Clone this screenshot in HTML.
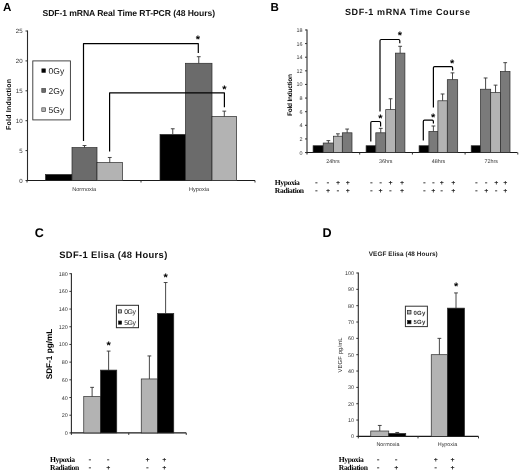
<!DOCTYPE html>
<html lang="en">
<head>
<meta charset="utf-8">
<title>SDF-1 and VEGF induction figure</title>
<style>
html,body{margin:0;padding:0;background:#fff;}
body{width:520px;height:475px;overflow:hidden;}
svg{display:block;}
</style>
</head>
<body>
<svg width="520" height="475" viewBox="0 0 520 475" text-rendering="geometricPrecision">
<rect x="0" y="0" width="520" height="475" fill="#fff"/>
<g>
<text x="7.20" y="11.10" font-family='"Liberation Sans", Arial, sans-serif' font-size="11.6" font-weight="bold" text-anchor="middle" fill="#000" >A</text>
<text x="42.50" y="15.60" font-family='"Liberation Sans", Arial, sans-serif' font-size="8.6" font-weight="bold" textLength="172.50" lengthAdjust="spacing" fill="#111" >SDF-1 mRNA Real Time RT-PCR (48 Hours)</text>
<line x1="27.50" y1="30.50" x2="27.50" y2="181.10" stroke="#2a2a2a" stroke-width="1.1" />
<line x1="26.90" y1="180.50" x2="255.00" y2="180.50" stroke="#1a1a1a" stroke-width="1.1" />
<line x1="25.50" y1="180.50" x2="27.50" y2="180.50" stroke="#333" stroke-width="1" />
<line x1="25.50" y1="150.60" x2="27.50" y2="150.60" stroke="#333" stroke-width="1" />
<line x1="25.50" y1="120.70" x2="27.50" y2="120.70" stroke="#333" stroke-width="1" />
<line x1="25.50" y1="90.80" x2="27.50" y2="90.80" stroke="#333" stroke-width="1" />
<line x1="25.50" y1="60.90" x2="27.50" y2="60.90" stroke="#333" stroke-width="1" />
<line x1="25.50" y1="31.00" x2="27.50" y2="31.00" stroke="#333" stroke-width="1" />
<line x1="27.00" y1="180.50" x2="27.00" y2="182.50" stroke="#333" stroke-width="1" />
<line x1="141.00" y1="180.50" x2="141.00" y2="182.50" stroke="#333" stroke-width="1" />
<line x1="255.00" y1="180.50" x2="255.00" y2="182.50" stroke="#333" stroke-width="1" />
<text x="22.60" y="182.60" font-family='"Liberation Sans", Arial, sans-serif' font-size="6.1" text-anchor="end" fill="#333" >0</text>
<text x="22.60" y="152.70" font-family='"Liberation Sans", Arial, sans-serif' font-size="6.1" text-anchor="end" fill="#333" >5</text>
<text x="22.60" y="122.80" font-family='"Liberation Sans", Arial, sans-serif' font-size="6.1" text-anchor="end" fill="#333" >10</text>
<text x="22.60" y="92.90" font-family='"Liberation Sans", Arial, sans-serif' font-size="6.1" text-anchor="end" fill="#333" >15</text>
<text x="22.60" y="63.00" font-family='"Liberation Sans", Arial, sans-serif' font-size="6.1" text-anchor="end" fill="#333" >20</text>
<text x="22.60" y="33.10" font-family='"Liberation Sans", Arial, sans-serif' font-size="6.1" text-anchor="end" fill="#333" >25</text>
<text x="10.90" y="104.50" font-family='"Liberation Sans", Arial, sans-serif' font-size="7.0" font-weight="bold" text-anchor="middle" textLength="51.00" lengthAdjust="spacing" transform="rotate(-90 10.90 104.50)" fill="#000" >Fold Induction</text>
<rect x="45.50" y="174.52" width="26.50" height="5.98" fill="#000" stroke="#2a2a2a" stroke-width="0.7"/>
<rect x="72.00" y="147.61" width="25.00" height="32.89" fill="#6b6b6b" stroke="#2a2a2a" stroke-width="0.7"/>
<line x1="84.50" y1="147.61" x2="84.50" y2="145.52" stroke="#333" stroke-width="0.9" />
<line x1="82.60" y1="145.52" x2="86.40" y2="145.52" stroke="#333" stroke-width="0.9" />
<rect x="97.00" y="162.56" width="25.50" height="17.94" fill="#b3b3b3" stroke="#2a2a2a" stroke-width="0.7"/>
<line x1="109.75" y1="162.56" x2="109.75" y2="157.48" stroke="#333" stroke-width="0.9" />
<line x1="107.85" y1="157.48" x2="111.65" y2="157.48" stroke="#333" stroke-width="0.9" />
<rect x="160.00" y="134.45" width="25.50" height="46.05" fill="#000" stroke="#2a2a2a" stroke-width="0.7"/>
<line x1="172.75" y1="134.45" x2="172.75" y2="128.77" stroke="#333" stroke-width="0.9" />
<line x1="170.85" y1="128.77" x2="174.65" y2="128.77" stroke="#333" stroke-width="0.9" />
<rect x="185.50" y="63.29" width="26.50" height="117.21" fill="#6b6b6b" stroke="#2a2a2a" stroke-width="0.7"/>
<line x1="198.75" y1="63.29" x2="198.75" y2="56.71" stroke="#333" stroke-width="0.9" />
<line x1="196.85" y1="56.71" x2="200.65" y2="56.71" stroke="#333" stroke-width="0.9" />
<rect x="212.00" y="116.51" width="24.60" height="63.99" fill="#b3b3b3" stroke="#2a2a2a" stroke-width="0.7"/>
<line x1="224.30" y1="116.51" x2="224.30" y2="111.13" stroke="#333" stroke-width="0.9" />
<line x1="222.40" y1="111.13" x2="226.20" y2="111.13" stroke="#333" stroke-width="0.9" />
<text x="84.20" y="191.30" font-family='"Liberation Sans", Arial, sans-serif' font-size="5.6" text-anchor="middle" fill="#333" >Normoxia</text>
<text x="199.00" y="191.30" font-family='"Liberation Sans", Arial, sans-serif' font-size="5.6" text-anchor="middle" fill="#333" >Hypoxia</text>
<rect x="32.80" y="60.90" width="37.60" height="59.00" fill="#fff" stroke="#333" stroke-width="0.9"/>
<rect x="41.80" y="68.80" width="3.80" height="3.80" fill="#000" stroke="#333" stroke-width="0.6"/>
<text x="48.60" y="73.80" font-family='"Liberation Sans", Arial, sans-serif' font-size="8.5" fill="#222" >0Gy</text>
<rect x="41.80" y="88.50" width="3.80" height="3.80" fill="#6b6b6b" stroke="#333" stroke-width="0.6"/>
<text x="48.60" y="93.50" font-family='"Liberation Sans", Arial, sans-serif' font-size="8.5" fill="#222" >2Gy</text>
<rect x="41.80" y="107.80" width="3.80" height="3.80" fill="#b3b3b3" stroke="#333" stroke-width="0.6"/>
<text x="48.60" y="112.80" font-family='"Liberation Sans", Arial, sans-serif' font-size="8.5" fill="#222" >5Gy</text>
<path d="M83.50,141.00 V43.60 H198.30 V53.00" fill="none" stroke="#000" stroke-width="1.2" stroke-linejoin="round"/>
<text x="198.00" y="43.21" font-family='"Liberation Sans", Arial, sans-serif' font-size="11" font-weight="bold" text-anchor="middle" fill="#000" >*</text>
<path d="M109.60,151.50 V92.90 H224.40 V107.20" fill="none" stroke="#000" stroke-width="1.2" stroke-linejoin="round"/>
<text x="224.40" y="93.01" font-family='"Liberation Sans", Arial, sans-serif' font-size="11" font-weight="bold" text-anchor="middle" fill="#000" >*</text>
<text x="274.60" y="11.10" font-family='"Liberation Sans", Arial, sans-serif' font-size="11.6" font-weight="bold" text-anchor="middle" fill="#000" >B</text>
<text x="345.00" y="15.00" font-family='"Liberation Sans", Arial, sans-serif' font-size="9" font-weight="bold" textLength="125.00" lengthAdjust="spacing" fill="#111" >SDF-1 mRNA Time Course</text>
<line x1="307.00" y1="29.47" x2="307.00" y2="153.15" stroke="#2a2a2a" stroke-width="1.1" />
<line x1="306.40" y1="152.55" x2="517.50" y2="152.55" stroke="#1a1a1a" stroke-width="1.1" />
<line x1="305.00" y1="152.55" x2="307.00" y2="152.55" stroke="#333" stroke-width="1" />
<line x1="305.00" y1="138.93" x2="307.00" y2="138.93" stroke="#333" stroke-width="1" />
<line x1="305.00" y1="125.31" x2="307.00" y2="125.31" stroke="#333" stroke-width="1" />
<line x1="305.00" y1="111.69" x2="307.00" y2="111.69" stroke="#333" stroke-width="1" />
<line x1="305.00" y1="98.07" x2="307.00" y2="98.07" stroke="#333" stroke-width="1" />
<line x1="305.00" y1="84.45" x2="307.00" y2="84.45" stroke="#333" stroke-width="1" />
<line x1="305.00" y1="70.83" x2="307.00" y2="70.83" stroke="#333" stroke-width="1" />
<line x1="305.00" y1="57.21" x2="307.00" y2="57.21" stroke="#333" stroke-width="1" />
<line x1="305.00" y1="43.59" x2="307.00" y2="43.59" stroke="#333" stroke-width="1" />
<line x1="305.00" y1="29.97" x2="307.00" y2="29.97" stroke="#333" stroke-width="1" />
<line x1="307.00" y1="152.55" x2="307.00" y2="154.55" stroke="#333" stroke-width="1" />
<line x1="359.70" y1="152.55" x2="359.70" y2="154.55" stroke="#333" stroke-width="1" />
<line x1="412.40" y1="152.55" x2="412.40" y2="154.55" stroke="#333" stroke-width="1" />
<line x1="465.10" y1="152.55" x2="465.10" y2="154.55" stroke="#333" stroke-width="1" />
<line x1="517.80" y1="152.55" x2="517.80" y2="154.55" stroke="#333" stroke-width="1" />
<text x="302.60" y="154.55" font-family='"Liberation Sans", Arial, sans-serif' font-size="5.4" text-anchor="end" fill="#333" >0</text>
<text x="302.60" y="140.93" font-family='"Liberation Sans", Arial, sans-serif' font-size="5.4" text-anchor="end" fill="#333" >2</text>
<text x="302.60" y="127.31" font-family='"Liberation Sans", Arial, sans-serif' font-size="5.4" text-anchor="end" fill="#333" >4</text>
<text x="302.60" y="113.69" font-family='"Liberation Sans", Arial, sans-serif' font-size="5.4" text-anchor="end" fill="#333" >6</text>
<text x="302.60" y="100.07" font-family='"Liberation Sans", Arial, sans-serif' font-size="5.4" text-anchor="end" fill="#333" >8</text>
<text x="302.60" y="86.45" font-family='"Liberation Sans", Arial, sans-serif' font-size="5.4" text-anchor="end" fill="#333" >10</text>
<text x="302.60" y="72.83" font-family='"Liberation Sans", Arial, sans-serif' font-size="5.4" text-anchor="end" fill="#333" >12</text>
<text x="302.60" y="59.21" font-family='"Liberation Sans", Arial, sans-serif' font-size="5.4" text-anchor="end" fill="#333" >14</text>
<text x="302.60" y="45.59" font-family='"Liberation Sans", Arial, sans-serif' font-size="5.4" text-anchor="end" fill="#333" >16</text>
<text x="302.60" y="31.97" font-family='"Liberation Sans", Arial, sans-serif' font-size="5.4" text-anchor="end" fill="#333" >18</text>
<text x="291.60" y="95.00" font-family='"Liberation Sans", Arial, sans-serif' font-size="6.6" font-weight="bold" text-anchor="middle" textLength="42.00" lengthAdjust="spacing" transform="rotate(-90 291.60 95.00)" fill="#000" >Fold Induction</text>
<rect x="313.10" y="145.74" width="10.10" height="6.81" fill="#000" stroke="#2a2a2a" stroke-width="0.7"/>
<rect x="323.20" y="143.02" width="10.30" height="9.53" fill="#7a7a7a" stroke="#2a2a2a" stroke-width="0.7"/>
<line x1="328.35" y1="143.02" x2="328.35" y2="140.63" stroke="#333" stroke-width="0.9" />
<line x1="326.45" y1="140.63" x2="330.25" y2="140.63" stroke="#333" stroke-width="0.9" />
<rect x="333.50" y="136.21" width="8.80" height="16.34" fill="#b3b3b3" stroke="#2a2a2a" stroke-width="0.7"/>
<line x1="337.90" y1="136.21" x2="337.90" y2="133.82" stroke="#333" stroke-width="0.9" />
<line x1="336.00" y1="133.82" x2="339.80" y2="133.82" stroke="#333" stroke-width="0.9" />
<rect x="342.30" y="132.80" width="9.70" height="19.75" fill="#7a7a7a" stroke="#2a2a2a" stroke-width="0.7"/>
<line x1="347.15" y1="132.80" x2="347.15" y2="129.06" stroke="#333" stroke-width="0.9" />
<line x1="345.25" y1="129.06" x2="349.05" y2="129.06" stroke="#333" stroke-width="0.9" />
<text x="333.05" y="162.80" font-family='"Liberation Sans", Arial, sans-serif' font-size="5.4" text-anchor="middle" fill="#333" >24hrs</text>
<rect x="366.10" y="145.74" width="9.70" height="6.81" fill="#000" stroke="#2a2a2a" stroke-width="0.7"/>
<rect x="375.80" y="132.80" width="9.90" height="19.75" fill="#7a7a7a" stroke="#2a2a2a" stroke-width="0.7"/>
<line x1="380.75" y1="132.80" x2="380.75" y2="128.37" stroke="#333" stroke-width="0.9" />
<line x1="378.85" y1="128.37" x2="382.65" y2="128.37" stroke="#333" stroke-width="0.9" />
<rect x="385.70" y="109.65" width="9.70" height="42.90" fill="#b3b3b3" stroke="#2a2a2a" stroke-width="0.7"/>
<line x1="390.55" y1="109.65" x2="390.55" y2="98.75" stroke="#333" stroke-width="0.9" />
<line x1="388.65" y1="98.75" x2="392.45" y2="98.75" stroke="#333" stroke-width="0.9" />
<rect x="395.40" y="53.12" width="9.50" height="99.43" fill="#7a7a7a" stroke="#2a2a2a" stroke-width="0.7"/>
<line x1="400.15" y1="53.12" x2="400.15" y2="46.31" stroke="#333" stroke-width="0.9" />
<line x1="398.25" y1="46.31" x2="402.05" y2="46.31" stroke="#333" stroke-width="0.9" />
<text x="385.75" y="162.80" font-family='"Liberation Sans", Arial, sans-serif' font-size="5.4" text-anchor="middle" fill="#333" >36hrs</text>
<rect x="419.10" y="145.74" width="9.80" height="6.81" fill="#000" stroke="#2a2a2a" stroke-width="0.7"/>
<rect x="428.90" y="131.44" width="9.00" height="21.11" fill="#7a7a7a" stroke="#2a2a2a" stroke-width="0.7"/>
<line x1="433.40" y1="131.44" x2="433.40" y2="125.99" stroke="#333" stroke-width="0.9" />
<line x1="431.50" y1="125.99" x2="435.30" y2="125.99" stroke="#333" stroke-width="0.9" />
<rect x="437.90" y="100.79" width="9.40" height="51.76" fill="#b3b3b3" stroke="#2a2a2a" stroke-width="0.7"/>
<line x1="442.60" y1="100.79" x2="442.60" y2="93.98" stroke="#333" stroke-width="0.9" />
<line x1="440.70" y1="93.98" x2="444.50" y2="93.98" stroke="#333" stroke-width="0.9" />
<rect x="447.30" y="79.68" width="10.40" height="72.87" fill="#7a7a7a" stroke="#2a2a2a" stroke-width="0.7"/>
<line x1="452.50" y1="79.68" x2="452.50" y2="72.87" stroke="#333" stroke-width="0.9" />
<line x1="450.60" y1="72.87" x2="454.40" y2="72.87" stroke="#333" stroke-width="0.9" />
<text x="438.45" y="162.80" font-family='"Liberation Sans", Arial, sans-serif' font-size="5.4" text-anchor="middle" fill="#333" >48hrs</text>
<rect x="471.20" y="145.74" width="9.30" height="6.81" fill="#000" stroke="#2a2a2a" stroke-width="0.7"/>
<rect x="480.50" y="89.22" width="10.20" height="63.33" fill="#7a7a7a" stroke="#2a2a2a" stroke-width="0.7"/>
<line x1="485.60" y1="89.22" x2="485.60" y2="77.98" stroke="#333" stroke-width="0.9" />
<line x1="483.70" y1="77.98" x2="487.50" y2="77.98" stroke="#333" stroke-width="0.9" />
<rect x="490.70" y="92.62" width="9.70" height="59.93" fill="#b3b3b3" stroke="#2a2a2a" stroke-width="0.7"/>
<line x1="495.55" y1="92.62" x2="495.55" y2="85.13" stroke="#333" stroke-width="0.9" />
<line x1="493.65" y1="85.13" x2="497.45" y2="85.13" stroke="#333" stroke-width="0.9" />
<rect x="500.40" y="71.51" width="9.60" height="81.04" fill="#7a7a7a" stroke="#2a2a2a" stroke-width="0.7"/>
<line x1="505.20" y1="71.51" x2="505.20" y2="62.66" stroke="#333" stroke-width="0.9" />
<line x1="503.30" y1="62.66" x2="507.10" y2="62.66" stroke="#333" stroke-width="0.9" />
<text x="491.15" y="162.80" font-family='"Liberation Sans", Arial, sans-serif' font-size="5.4" text-anchor="middle" fill="#333" >72hrs</text>
<path d="M370.80,141.50 V122.70 Q370.80,121.50 372.00,121.50 H379.40 Q380.60,121.50 380.60,122.70 V126.60" fill="none" stroke="#000" stroke-width="1.2" stroke-linejoin="round"/>
<text x="380.30" y="122.31" font-family='"Liberation Sans", Arial, sans-serif' font-size="11" font-weight="bold" text-anchor="middle" fill="#000" >*</text>
<path d="M380.00,111.40 V40.70 Q380.00,39.50 381.20,39.50 H398.60 Q399.80,39.50 399.80,40.70 V43.30" fill="none" stroke="#000" stroke-width="1.2" stroke-linejoin="round"/>
<text x="399.80" y="38.81" font-family='"Liberation Sans", Arial, sans-serif' font-size="11" font-weight="bold" text-anchor="middle" fill="#000" >*</text>
<path d="M423.30,140.40 V121.40 Q423.30,120.20 424.50,120.20 H432.20 Q433.40,120.20 433.40,121.40 V123.60" fill="none" stroke="#000" stroke-width="1.2" stroke-linejoin="round"/>
<text x="433.10" y="120.81" font-family='"Liberation Sans", Arial, sans-serif' font-size="11" font-weight="bold" text-anchor="middle" fill="#000" >*</text>
<path d="M433.40,107.40 V67.80 Q433.40,66.60 434.60,66.60 H451.40 Q452.60,66.60 452.60,67.80 V70.40" fill="none" stroke="#000" stroke-width="1.2" stroke-linejoin="round"/>
<text x="452.20" y="67.21" font-family='"Liberation Sans", Arial, sans-serif' font-size="11" font-weight="bold" text-anchor="middle" fill="#000" >*</text>
<text x="274.80" y="185.00" font-family='"Liberation Serif", "Times New Roman", serif' font-size="7.6" font-weight="bold" textLength="25.00" lengthAdjust="spacing" fill="#000" >Hypoxia</text>
<text x="274.80" y="193.00" font-family='"Liberation Serif", "Times New Roman", serif' font-size="7.6" font-weight="bold" textLength="29.30" lengthAdjust="spacing" fill="#000" >Radiation</text>
<text x="316.50" y="185.40" font-family='"Liberation Sans", Arial, sans-serif' font-size="8.4" font-weight="bold" text-anchor="middle" fill="#3a3a3a" >-</text>
<text x="328.00" y="185.40" font-family='"Liberation Sans", Arial, sans-serif' font-size="8.4" font-weight="bold" text-anchor="middle" fill="#3a3a3a" >-</text>
<text x="338.00" y="185.20" font-family='"Liberation Sans", Arial, sans-serif' font-size="7" font-weight="bold" text-anchor="middle" fill="#222" >+</text>
<text x="347.80" y="185.20" font-family='"Liberation Sans", Arial, sans-serif' font-size="7" font-weight="bold" text-anchor="middle" fill="#222" >+</text>
<text x="371.40" y="185.40" font-family='"Liberation Sans", Arial, sans-serif' font-size="8.4" font-weight="bold" text-anchor="middle" fill="#3a3a3a" >-</text>
<text x="380.60" y="185.40" font-family='"Liberation Sans", Arial, sans-serif' font-size="8.4" font-weight="bold" text-anchor="middle" fill="#3a3a3a" >-</text>
<text x="390.50" y="185.20" font-family='"Liberation Sans", Arial, sans-serif' font-size="7" font-weight="bold" text-anchor="middle" fill="#222" >+</text>
<text x="402.00" y="185.20" font-family='"Liberation Sans", Arial, sans-serif' font-size="7" font-weight="bold" text-anchor="middle" fill="#222" >+</text>
<text x="424.40" y="185.40" font-family='"Liberation Sans", Arial, sans-serif' font-size="8.4" font-weight="bold" text-anchor="middle" fill="#3a3a3a" >-</text>
<text x="433.40" y="185.40" font-family='"Liberation Sans", Arial, sans-serif' font-size="8.4" font-weight="bold" text-anchor="middle" fill="#3a3a3a" >-</text>
<text x="441.70" y="185.20" font-family='"Liberation Sans", Arial, sans-serif' font-size="7" font-weight="bold" text-anchor="middle" fill="#222" >+</text>
<text x="453.20" y="185.20" font-family='"Liberation Sans", Arial, sans-serif' font-size="7" font-weight="bold" text-anchor="middle" fill="#222" >+</text>
<text x="476.50" y="185.40" font-family='"Liberation Sans", Arial, sans-serif' font-size="8.4" font-weight="bold" text-anchor="middle" fill="#3a3a3a" >-</text>
<text x="486.20" y="185.40" font-family='"Liberation Sans", Arial, sans-serif' font-size="8.4" font-weight="bold" text-anchor="middle" fill="#3a3a3a" >-</text>
<text x="496.20" y="185.20" font-family='"Liberation Sans", Arial, sans-serif' font-size="7" font-weight="bold" text-anchor="middle" fill="#222" >+</text>
<text x="505.30" y="185.20" font-family='"Liberation Sans", Arial, sans-serif' font-size="7" font-weight="bold" text-anchor="middle" fill="#222" >+</text>
<text x="316.50" y="193.40" font-family='"Liberation Sans", Arial, sans-serif' font-size="8.4" font-weight="bold" text-anchor="middle" fill="#3a3a3a" >-</text>
<text x="328.00" y="193.20" font-family='"Liberation Sans", Arial, sans-serif' font-size="7" font-weight="bold" text-anchor="middle" fill="#222" >+</text>
<text x="338.00" y="193.40" font-family='"Liberation Sans", Arial, sans-serif' font-size="8.4" font-weight="bold" text-anchor="middle" fill="#3a3a3a" >-</text>
<text x="347.80" y="193.20" font-family='"Liberation Sans", Arial, sans-serif' font-size="7" font-weight="bold" text-anchor="middle" fill="#222" >+</text>
<text x="371.40" y="193.40" font-family='"Liberation Sans", Arial, sans-serif' font-size="8.4" font-weight="bold" text-anchor="middle" fill="#3a3a3a" >-</text>
<text x="380.60" y="193.20" font-family='"Liberation Sans", Arial, sans-serif' font-size="7" font-weight="bold" text-anchor="middle" fill="#222" >+</text>
<text x="390.50" y="193.40" font-family='"Liberation Sans", Arial, sans-serif' font-size="8.4" font-weight="bold" text-anchor="middle" fill="#3a3a3a" >-</text>
<text x="402.00" y="193.20" font-family='"Liberation Sans", Arial, sans-serif' font-size="7" font-weight="bold" text-anchor="middle" fill="#222" >+</text>
<text x="424.40" y="193.40" font-family='"Liberation Sans", Arial, sans-serif' font-size="8.4" font-weight="bold" text-anchor="middle" fill="#3a3a3a" >-</text>
<text x="433.40" y="193.20" font-family='"Liberation Sans", Arial, sans-serif' font-size="7" font-weight="bold" text-anchor="middle" fill="#222" >+</text>
<text x="441.70" y="193.40" font-family='"Liberation Sans", Arial, sans-serif' font-size="8.4" font-weight="bold" text-anchor="middle" fill="#3a3a3a" >-</text>
<text x="453.20" y="193.20" font-family='"Liberation Sans", Arial, sans-serif' font-size="7" font-weight="bold" text-anchor="middle" fill="#222" >+</text>
<text x="476.50" y="193.40" font-family='"Liberation Sans", Arial, sans-serif' font-size="8.4" font-weight="bold" text-anchor="middle" fill="#3a3a3a" >-</text>
<text x="486.20" y="193.20" font-family='"Liberation Sans", Arial, sans-serif' font-size="7" font-weight="bold" text-anchor="middle" fill="#222" >+</text>
<text x="496.20" y="193.40" font-family='"Liberation Sans", Arial, sans-serif' font-size="8.4" font-weight="bold" text-anchor="middle" fill="#3a3a3a" >-</text>
<text x="505.30" y="193.20" font-family='"Liberation Sans", Arial, sans-serif' font-size="7" font-weight="bold" text-anchor="middle" fill="#222" >+</text>
<text x="39.30" y="237.00" font-family='"Liberation Sans", Arial, sans-serif' font-size="12.6" font-weight="bold" text-anchor="middle" fill="#000" >C</text>
<text x="59.25" y="257.60" font-family='"Liberation Sans", Arial, sans-serif' font-size="9.4" font-weight="bold" textLength="108.00" lengthAdjust="spacing" fill="#111" >SDF-1 Elisa (48 Hours)</text>
<line x1="71.40" y1="273.19" x2="71.40" y2="433.50" stroke="#2a2a2a" stroke-width="1.1" />
<line x1="70.80" y1="432.90" x2="186.25" y2="432.90" stroke="#1a1a1a" stroke-width="1.1" />
<line x1="69.40" y1="432.90" x2="71.40" y2="432.90" stroke="#333" stroke-width="1" />
<line x1="69.40" y1="415.21" x2="71.40" y2="415.21" stroke="#333" stroke-width="1" />
<line x1="69.40" y1="397.52" x2="71.40" y2="397.52" stroke="#333" stroke-width="1" />
<line x1="69.40" y1="379.83" x2="71.40" y2="379.83" stroke="#333" stroke-width="1" />
<line x1="69.40" y1="362.14" x2="71.40" y2="362.14" stroke="#333" stroke-width="1" />
<line x1="69.40" y1="344.45" x2="71.40" y2="344.45" stroke="#333" stroke-width="1" />
<line x1="69.40" y1="326.76" x2="71.40" y2="326.76" stroke="#333" stroke-width="1" />
<line x1="69.40" y1="309.07" x2="71.40" y2="309.07" stroke="#333" stroke-width="1" />
<line x1="69.40" y1="291.38" x2="71.40" y2="291.38" stroke="#333" stroke-width="1" />
<line x1="69.40" y1="273.69" x2="71.40" y2="273.69" stroke="#333" stroke-width="1" />
<line x1="71.40" y1="432.90" x2="71.40" y2="434.90" stroke="#333" stroke-width="1" />
<line x1="128.75" y1="432.90" x2="128.75" y2="434.90" stroke="#333" stroke-width="1" />
<line x1="186.25" y1="432.90" x2="186.25" y2="434.90" stroke="#333" stroke-width="1" />
<text x="67.80" y="434.90" font-family='"Liberation Sans", Arial, sans-serif' font-size="5.4" text-anchor="end" fill="#333" >0</text>
<text x="67.80" y="417.21" font-family='"Liberation Sans", Arial, sans-serif' font-size="5.4" text-anchor="end" fill="#333" >20</text>
<text x="67.80" y="399.52" font-family='"Liberation Sans", Arial, sans-serif' font-size="5.4" text-anchor="end" fill="#333" >40</text>
<text x="67.80" y="381.83" font-family='"Liberation Sans", Arial, sans-serif' font-size="5.4" text-anchor="end" fill="#333" >60</text>
<text x="67.80" y="364.14" font-family='"Liberation Sans", Arial, sans-serif' font-size="5.4" text-anchor="end" fill="#333" >80</text>
<text x="67.80" y="346.45" font-family='"Liberation Sans", Arial, sans-serif' font-size="5.4" text-anchor="end" fill="#333" >100</text>
<text x="67.80" y="328.76" font-family='"Liberation Sans", Arial, sans-serif' font-size="5.4" text-anchor="end" fill="#333" >120</text>
<text x="67.80" y="311.07" font-family='"Liberation Sans", Arial, sans-serif' font-size="5.4" text-anchor="end" fill="#333" >140</text>
<text x="67.80" y="293.38" font-family='"Liberation Sans", Arial, sans-serif' font-size="5.4" text-anchor="end" fill="#333" >160</text>
<text x="67.80" y="275.69" font-family='"Liberation Sans", Arial, sans-serif' font-size="5.4" text-anchor="end" fill="#333" >180</text>
<text x="52.40" y="354.00" font-family='"Liberation Sans", Arial, sans-serif' font-size="8.2" font-weight="bold" text-anchor="middle" textLength="50.60" lengthAdjust="spacing" transform="rotate(-90 52.40 354.00)" fill="#000" >SDF-1 pg/mL</text>
<rect x="83.75" y="396.64" width="16.75" height="36.26" fill="#b3b3b3" stroke="#2a2a2a" stroke-width="0.7"/>
<line x1="92.12" y1="396.64" x2="92.12" y2="387.35" stroke="#333" stroke-width="0.9" />
<line x1="90.22" y1="387.35" x2="94.03" y2="387.35" stroke="#333" stroke-width="0.9" />
<rect x="100.50" y="370.10" width="16.25" height="62.80" fill="#000" stroke="#2a2a2a" stroke-width="0.7"/>
<line x1="108.62" y1="370.10" x2="108.62" y2="351.08" stroke="#333" stroke-width="0.9" />
<line x1="106.72" y1="351.08" x2="110.53" y2="351.08" stroke="#333" stroke-width="0.9" />
<rect x="141.25" y="378.95" width="16.25" height="53.95" fill="#b3b3b3" stroke="#2a2a2a" stroke-width="0.7"/>
<line x1="149.38" y1="378.95" x2="149.38" y2="355.95" stroke="#333" stroke-width="0.9" />
<line x1="147.47" y1="355.95" x2="151.28" y2="355.95" stroke="#333" stroke-width="0.9" />
<rect x="157.50" y="313.49" width="16.25" height="119.41" fill="#000" stroke="#2a2a2a" stroke-width="0.7"/>
<line x1="165.62" y1="313.49" x2="165.62" y2="282.53" stroke="#333" stroke-width="0.9" />
<line x1="163.72" y1="282.53" x2="167.53" y2="282.53" stroke="#333" stroke-width="0.9" />
<text x="108.60" y="348.91" font-family='"Liberation Sans", Arial, sans-serif' font-size="11" font-weight="bold" text-anchor="middle" fill="#000" >*</text>
<text x="165.60" y="281.11" font-family='"Liberation Sans", Arial, sans-serif' font-size="11" font-weight="bold" text-anchor="middle" fill="#000" >*</text>
<rect x="116.40" y="305.30" width="22.10" height="22.40" fill="#fff" stroke="#2a2a2a" stroke-width="1.0"/>
<rect x="118.60" y="309.80" width="3.00" height="3.20" fill="#b3b3b3" stroke="#222" stroke-width="0.7"/>
<text x="124.30" y="313.80" font-family='"Liberation Sans", Arial, sans-serif' font-size="6.9" textLength="11.60" lengthAdjust="spacing" fill="#222" >0Gy</text>
<rect x="118.60" y="321.00" width="3.00" height="3.20" fill="#000" stroke="#222" stroke-width="0.7"/>
<text x="124.30" y="325.00" font-family='"Liberation Sans", Arial, sans-serif' font-size="6.9" textLength="11.60" lengthAdjust="spacing" fill="#222" >5Gy</text>
<text x="50.00" y="461.60" font-family='"Liberation Serif", "Times New Roman", serif' font-size="7.6" font-weight="bold" textLength="25.00" lengthAdjust="spacing" fill="#000" >Hypoxia</text>
<text x="50.00" y="469.70" font-family='"Liberation Serif", "Times New Roman", serif' font-size="7.6" font-weight="bold" textLength="29.30" lengthAdjust="spacing" fill="#000" >Radiation</text>
<text x="90.00" y="462.00" font-family='"Liberation Sans", Arial, sans-serif' font-size="8.4" font-weight="bold" text-anchor="middle" fill="#3a3a3a" >-</text>
<text x="108.25" y="462.00" font-family='"Liberation Sans", Arial, sans-serif' font-size="8.4" font-weight="bold" text-anchor="middle" fill="#3a3a3a" >-</text>
<text x="147.50" y="461.80" font-family='"Liberation Sans", Arial, sans-serif' font-size="7" font-weight="bold" text-anchor="middle" fill="#222" >+</text>
<text x="164.25" y="461.80" font-family='"Liberation Sans", Arial, sans-serif' font-size="7" font-weight="bold" text-anchor="middle" fill="#222" >+</text>
<text x="90.00" y="470.10" font-family='"Liberation Sans", Arial, sans-serif' font-size="8.4" font-weight="bold" text-anchor="middle" fill="#3a3a3a" >-</text>
<text x="108.25" y="469.90" font-family='"Liberation Sans", Arial, sans-serif' font-size="7" font-weight="bold" text-anchor="middle" fill="#222" >+</text>
<text x="147.50" y="470.10" font-family='"Liberation Sans", Arial, sans-serif' font-size="8.4" font-weight="bold" text-anchor="middle" fill="#3a3a3a" >-</text>
<text x="164.25" y="469.90" font-family='"Liberation Sans", Arial, sans-serif' font-size="7" font-weight="bold" text-anchor="middle" fill="#222" >+</text>
<text x="327.00" y="237.00" font-family='"Liberation Sans", Arial, sans-serif' font-size="12.6" font-weight="bold" text-anchor="middle" fill="#000" >D</text>
<text x="368.75" y="256.00" font-family='"Liberation Sans", Arial, sans-serif' font-size="6.4" font-weight="bold" textLength="69.00" lengthAdjust="spacing" fill="#222" >VEGF Elisa (48 Hours)</text>
<line x1="358.30" y1="272.50" x2="358.30" y2="437.00" stroke="#2a2a2a" stroke-width="1.1" />
<line x1="357.70" y1="436.40" x2="478.50" y2="436.40" stroke="#1a1a1a" stroke-width="1.1" />
<line x1="356.30" y1="436.40" x2="358.30" y2="436.40" stroke="#333" stroke-width="1" />
<line x1="356.30" y1="420.06" x2="358.30" y2="420.06" stroke="#333" stroke-width="1" />
<line x1="356.30" y1="403.72" x2="358.30" y2="403.72" stroke="#333" stroke-width="1" />
<line x1="356.30" y1="387.38" x2="358.30" y2="387.38" stroke="#333" stroke-width="1" />
<line x1="356.30" y1="371.04" x2="358.30" y2="371.04" stroke="#333" stroke-width="1" />
<line x1="356.30" y1="354.70" x2="358.30" y2="354.70" stroke="#333" stroke-width="1" />
<line x1="356.30" y1="338.36" x2="358.30" y2="338.36" stroke="#333" stroke-width="1" />
<line x1="356.30" y1="322.02" x2="358.30" y2="322.02" stroke="#333" stroke-width="1" />
<line x1="356.30" y1="305.68" x2="358.30" y2="305.68" stroke="#333" stroke-width="1" />
<line x1="356.30" y1="289.34" x2="358.30" y2="289.34" stroke="#333" stroke-width="1" />
<line x1="356.30" y1="273.00" x2="358.30" y2="273.00" stroke="#333" stroke-width="1" />
<line x1="358.30" y1="436.40" x2="358.30" y2="438.40" stroke="#333" stroke-width="1" />
<line x1="418.00" y1="436.40" x2="418.00" y2="438.40" stroke="#333" stroke-width="1" />
<line x1="478.50" y1="436.40" x2="478.50" y2="438.40" stroke="#333" stroke-width="1" />
<text x="354.00" y="438.40" font-family='"Liberation Sans", Arial, sans-serif' font-size="5.4" text-anchor="end" fill="#333" >0</text>
<text x="354.00" y="422.06" font-family='"Liberation Sans", Arial, sans-serif' font-size="5.4" text-anchor="end" fill="#333" >10</text>
<text x="354.00" y="405.72" font-family='"Liberation Sans", Arial, sans-serif' font-size="5.4" text-anchor="end" fill="#333" >20</text>
<text x="354.00" y="389.38" font-family='"Liberation Sans", Arial, sans-serif' font-size="5.4" text-anchor="end" fill="#333" >30</text>
<text x="354.00" y="373.04" font-family='"Liberation Sans", Arial, sans-serif' font-size="5.4" text-anchor="end" fill="#333" >40</text>
<text x="354.00" y="356.70" font-family='"Liberation Sans", Arial, sans-serif' font-size="5.4" text-anchor="end" fill="#333" >50</text>
<text x="354.00" y="340.36" font-family='"Liberation Sans", Arial, sans-serif' font-size="5.4" text-anchor="end" fill="#333" >60</text>
<text x="354.00" y="324.02" font-family='"Liberation Sans", Arial, sans-serif' font-size="5.4" text-anchor="end" fill="#333" >70</text>
<text x="354.00" y="307.68" font-family='"Liberation Sans", Arial, sans-serif' font-size="5.4" text-anchor="end" fill="#333" >80</text>
<text x="354.00" y="291.34" font-family='"Liberation Sans", Arial, sans-serif' font-size="5.4" text-anchor="end" fill="#333" >90</text>
<text x="354.00" y="275.00" font-family='"Liberation Sans", Arial, sans-serif' font-size="5.4" text-anchor="end" fill="#333" >100</text>
<text x="342.00" y="355.00" font-family='"Liberation Sans", Arial, sans-serif' font-size="5.8" text-anchor="middle" textLength="35.00" lengthAdjust="spacing" transform="rotate(-90 342.00 355.00)" fill="#222" >VEGF pg/mL</text>
<rect x="370.75" y="431.01" width="18.00" height="5.39" fill="#b3b3b3" stroke="#2a2a2a" stroke-width="0.7"/>
<line x1="379.75" y1="431.01" x2="379.75" y2="425.45" stroke="#333" stroke-width="0.9" />
<line x1="377.85" y1="425.45" x2="381.65" y2="425.45" stroke="#333" stroke-width="0.9" />
<rect x="388.75" y="433.46" width="17.00" height="2.94" fill="#000" stroke="#2a2a2a" stroke-width="0.7"/>
<line x1="397.25" y1="433.46" x2="397.25" y2="432.48" stroke="#333" stroke-width="0.9" />
<line x1="395.35" y1="432.48" x2="399.15" y2="432.48" stroke="#333" stroke-width="0.9" />
<rect x="431.25" y="354.70" width="16.25" height="81.70" fill="#b3b3b3" stroke="#2a2a2a" stroke-width="0.7"/>
<line x1="439.38" y1="354.70" x2="439.38" y2="338.36" stroke="#333" stroke-width="0.9" />
<line x1="437.48" y1="338.36" x2="441.27" y2="338.36" stroke="#333" stroke-width="0.9" />
<rect x="447.50" y="308.13" width="17.00" height="128.27" fill="#000" stroke="#2a2a2a" stroke-width="0.7"/>
<line x1="456.00" y1="308.13" x2="456.00" y2="292.93" stroke="#333" stroke-width="0.9" />
<line x1="454.10" y1="292.93" x2="457.90" y2="292.93" stroke="#333" stroke-width="0.9" />
<text x="456.20" y="290.01" font-family='"Liberation Sans", Arial, sans-serif' font-size="11" font-weight="bold" text-anchor="middle" fill="#000" >*</text>
<rect x="405.40" y="306.20" width="22.00" height="20.40" fill="#fff" stroke="#333" stroke-width="1.0"/>
<rect x="407.60" y="310.60" width="3.40" height="3.40" fill="#b3b3b3" stroke="#222" stroke-width="0.7"/>
<text x="413.50" y="314.50" font-family='"Liberation Sans", Arial, sans-serif' font-size="6.0" font-weight="bold" textLength="11.80" lengthAdjust="spacing" fill="#333" >0Gy</text>
<rect x="407.60" y="320.40" width="3.40" height="3.40" fill="#000" stroke="#222" stroke-width="0.7"/>
<text x="413.50" y="324.30" font-family='"Liberation Sans", Arial, sans-serif' font-size="6.0" font-weight="bold" textLength="11.80" lengthAdjust="spacing" fill="#333" >5Gy</text>
<text x="388.00" y="445.80" font-family='"Liberation Sans", Arial, sans-serif' font-size="5.4" text-anchor="middle" fill="#333" >Normoxia</text>
<text x="447.50" y="445.80" font-family='"Liberation Sans", Arial, sans-serif' font-size="5.4" text-anchor="middle" fill="#333" >Hypoxia</text>
<text x="338.75" y="461.60" font-family='"Liberation Serif", "Times New Roman", serif' font-size="7.6" font-weight="bold" textLength="25.00" lengthAdjust="spacing" fill="#000" >Hypoxia</text>
<text x="338.75" y="469.70" font-family='"Liberation Serif", "Times New Roman", serif' font-size="7.6" font-weight="bold" textLength="29.30" lengthAdjust="spacing" fill="#000" >Radiation</text>
<text x="378.25" y="462.00" font-family='"Liberation Sans", Arial, sans-serif' font-size="8.4" font-weight="bold" text-anchor="middle" fill="#3a3a3a" >-</text>
<text x="396.25" y="462.00" font-family='"Liberation Sans", Arial, sans-serif' font-size="8.4" font-weight="bold" text-anchor="middle" fill="#3a3a3a" >-</text>
<text x="435.75" y="461.80" font-family='"Liberation Sans", Arial, sans-serif' font-size="7" font-weight="bold" text-anchor="middle" fill="#222" >+</text>
<text x="452.50" y="461.80" font-family='"Liberation Sans", Arial, sans-serif' font-size="7" font-weight="bold" text-anchor="middle" fill="#222" >+</text>
<text x="378.25" y="470.10" font-family='"Liberation Sans", Arial, sans-serif' font-size="8.4" font-weight="bold" text-anchor="middle" fill="#3a3a3a" >-</text>
<text x="396.25" y="469.90" font-family='"Liberation Sans", Arial, sans-serif' font-size="7" font-weight="bold" text-anchor="middle" fill="#222" >+</text>
<text x="435.75" y="470.10" font-family='"Liberation Sans", Arial, sans-serif' font-size="8.4" font-weight="bold" text-anchor="middle" fill="#3a3a3a" >-</text>
<text x="452.50" y="469.90" font-family='"Liberation Sans", Arial, sans-serif' font-size="7" font-weight="bold" text-anchor="middle" fill="#222" >+</text>
</g>
</svg>
</body>
</html>
